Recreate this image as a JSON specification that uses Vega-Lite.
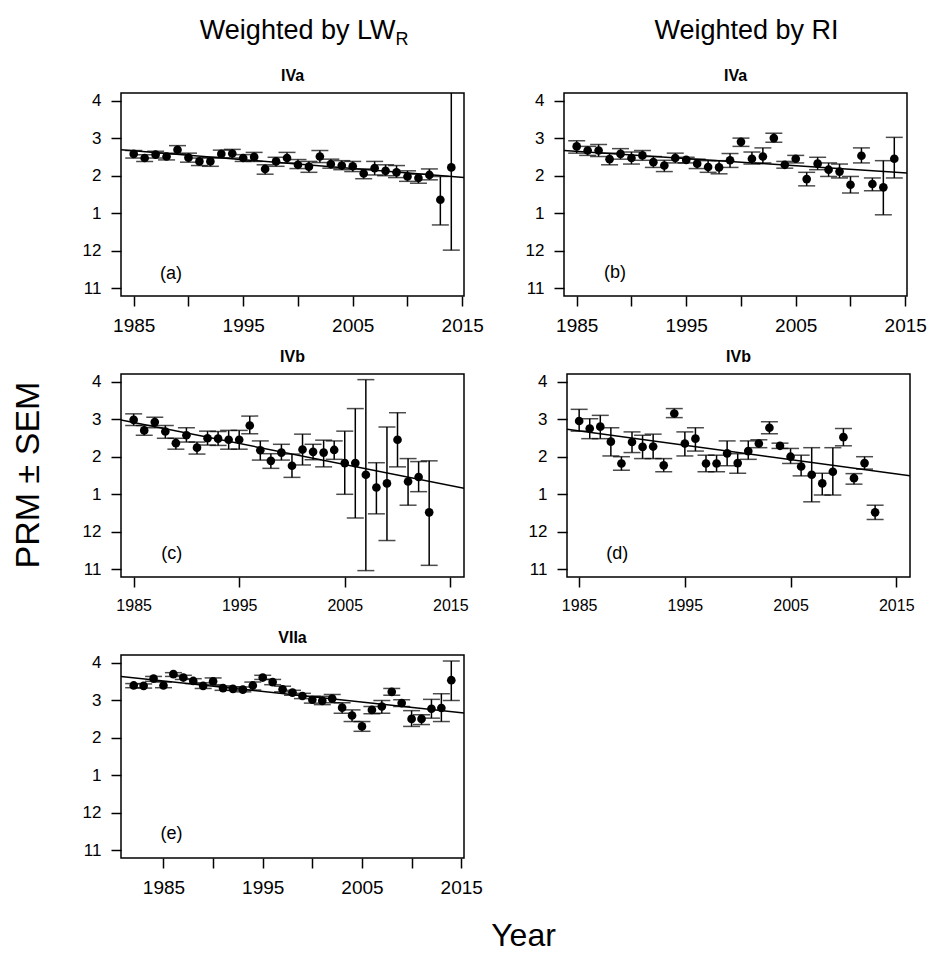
{
  "$schema": "https://vega.github.io/schema/vega-lite/v6.json",
  "padding": {"left": 12, "top": 16, "right": 5, "bottom": 25},
  "background": "white",
  "title": {"text": "PRM ± SEM", "orient": "left", "anchor": "middle", "fontSize": 34, "fontWeight": "normal", "font": "Liberation Sans", "color": "black", "offset": 35, "dx": 9},
  "config": {
    "font": "Liberation Sans",
    "view": {"stroke": "black", "strokeWidth": 1.5},
    "title": {"fontSize": 16, "fontWeight": "bold", "font": "Liberation Sans", "color": "black", "offset": 8},
    "axis": {"grid": false, "domain": false, "tickColor": "black", "tickWidth": 1.5, "tickSize": 10, "labelColor": "black", "labelFont": "Liberation Sans", "labelFlush": false, "labelOverlap": false, "labelPadding": 10}
  },
  "datasets": {
    "notes": [{"panel": "a", "label": "(a)"}, {"panel": "b", "label": "(b)"}, {"panel": "c", "label": "(c)"}, {"panel": "d", "label": "(d)"}, {"panel": "e", "label": "(e)"}, {"panel": "ha", "label": "Weighted by LW"}, {"panel": "hs", "label": "R"}, {"panel": "hb", "label": "Weighted by RI"}, {"panel": "ta", "label": "IVa"}, {"panel": "tb", "label": "IVa"}],
    "la": [{"year": 1983.84, "prm": 2.69}, {"year": 2015.16, "prm": 1.95}],
    "lb": [{"year": 1983.84, "prm": 2.67}, {"year": 2015.16, "prm": 2.07}],
    "lc": [{"year": 1983.8, "prm": 2.98}, {"year": 2016.3, "prm": 1.16}],
    "ld": [{"year": 1983.85, "prm": 2.73}, {"year": 2016.3, "prm": 1.49}],
    "le": [{"year": 1980.72, "prm": 3.63}, {"year": 2015.28, "prm": 2.66}],
    "a": [
      {"year": 1985, "prm": 2.58, "hi": 2.67, "lo": 2.47},
      {"year": 1986, "prm": 2.47, "hi": 2.56, "lo": 2.38},
      {"year": 1987, "prm": 2.56, "hi": 2.65, "lo": 2.47},
      {"year": 1988, "prm": 2.51, "hi": 2.60, "lo": 2.42},
      {"year": 1989, "prm": 2.69, "hi": 2.80, "lo": 2.58},
      {"year": 1990, "prm": 2.48, "hi": 2.60, "lo": 2.36},
      {"year": 1991, "prm": 2.38, "hi": 2.47, "lo": 2.27},
      {"year": 1992, "prm": 2.38, "hi": 2.49, "lo": 2.25},
      {"year": 1993, "prm": 2.58, "hi": 2.68, "lo": 2.47},
      {"year": 1994, "prm": 2.59, "hi": 2.70, "lo": 2.47},
      {"year": 1995, "prm": 2.47, "hi": 2.56, "lo": 2.38},
      {"year": 1996, "prm": 2.50, "hi": 2.62, "lo": 2.38},
      {"year": 1997, "prm": 2.18, "hi": 2.29, "lo": 2.04},
      {"year": 1998, "prm": 2.38, "hi": 2.49, "lo": 2.25},
      {"year": 1999, "prm": 2.47, "hi": 2.62, "lo": 2.34},
      {"year": 2000, "prm": 2.29, "hi": 2.43, "lo": 2.19},
      {"year": 2001, "prm": 2.24, "hi": 2.38, "lo": 2.09},
      {"year": 2002, "prm": 2.51, "hi": 2.67, "lo": 2.35},
      {"year": 2003, "prm": 2.31, "hi": 2.44, "lo": 2.20},
      {"year": 2004, "prm": 2.27, "hi": 2.40, "lo": 2.16},
      {"year": 2005, "prm": 2.25, "hi": 2.38, "lo": 2.11},
      {"year": 2006, "prm": 2.06, "hi": 2.18, "lo": 1.92},
      {"year": 2007, "prm": 2.20, "hi": 2.38, "lo": 2.02},
      {"year": 2008, "prm": 2.13, "hi": 2.29, "lo": 2.00},
      {"year": 2009, "prm": 2.09, "hi": 2.27, "lo": 1.95},
      {"year": 2010, "prm": 1.98, "hi": 2.13, "lo": 1.85},
      {"year": 2011, "prm": 1.94, "hi": 2.04, "lo": 1.80},
      {"year": 2012, "prm": 2.02, "hi": 2.18, "lo": 1.89},
      {"year": 2013, "prm": 1.36, "hi": 1.98, "lo": 0.69},
      {"year": 2014, "prm": 2.22, "hi": 4.42, "lo": 0.02}
    ],
    "b": [
      {"year": 1985, "prm": 2.78, "hi": 2.93, "lo": 2.60},
      {"year": 1986, "prm": 2.67, "hi": 2.78, "lo": 2.54},
      {"year": 1987, "prm": 2.67, "hi": 2.83, "lo": 2.51},
      {"year": 1988, "prm": 2.44, "hi": 2.60, "lo": 2.29},
      {"year": 1989, "prm": 2.58, "hi": 2.72, "lo": 2.44},
      {"year": 1990, "prm": 2.47, "hi": 2.63, "lo": 2.31},
      {"year": 1991, "prm": 2.54, "hi": 2.67, "lo": 2.41},
      {"year": 1992, "prm": 2.36, "hi": 2.51, "lo": 2.22},
      {"year": 1993, "prm": 2.27, "hi": 2.41, "lo": 2.11},
      {"year": 1994, "prm": 2.47, "hi": 2.60, "lo": 2.34},
      {"year": 1995, "prm": 2.42, "hi": 2.49, "lo": 2.34},
      {"year": 1996, "prm": 2.32, "hi": 2.44, "lo": 2.19},
      {"year": 1997, "prm": 2.23, "hi": 2.40, "lo": 2.09},
      {"year": 1998, "prm": 2.22, "hi": 2.40, "lo": 2.05},
      {"year": 1999, "prm": 2.41, "hi": 2.59, "lo": 2.22},
      {"year": 2000, "prm": 2.90, "hi": 3.00, "lo": 2.78},
      {"year": 2001, "prm": 2.45, "hi": 2.63, "lo": 2.31},
      {"year": 2002, "prm": 2.51, "hi": 2.74, "lo": 2.34},
      {"year": 2003, "prm": 3.00, "hi": 3.13, "lo": 2.89},
      {"year": 2004, "prm": 2.29, "hi": 2.38, "lo": 2.20},
      {"year": 2005, "prm": 2.45, "hi": 2.54, "lo": 2.34},
      {"year": 2006, "prm": 1.91, "hi": 2.09, "lo": 1.73},
      {"year": 2007, "prm": 2.32, "hi": 2.49, "lo": 2.16},
      {"year": 2008, "prm": 2.16, "hi": 2.34, "lo": 1.98},
      {"year": 2009, "prm": 2.11, "hi": 2.31, "lo": 1.94},
      {"year": 2010, "prm": 1.76, "hi": 1.98, "lo": 1.54},
      {"year": 2011, "prm": 2.53, "hi": 2.74, "lo": 2.34},
      {"year": 2012, "prm": 1.78, "hi": 1.94, "lo": 1.60},
      {"year": 2013, "prm": 1.69, "hi": 2.40, "lo": 0.96},
      {"year": 2014, "prm": 2.45, "hi": 3.02, "lo": 1.94}
    ],
    "c": [
      {"year": 1985, "prm": 2.98, "hi": 3.14, "lo": 2.83},
      {"year": 1986, "prm": 2.70, "hi": 2.83, "lo": 2.57},
      {"year": 1987, "prm": 2.92, "hi": 3.05, "lo": 2.77},
      {"year": 1988, "prm": 2.67, "hi": 2.83, "lo": 2.49},
      {"year": 1989, "prm": 2.36, "hi": 2.49, "lo": 2.20},
      {"year": 1990, "prm": 2.57, "hi": 2.77, "lo": 2.39},
      {"year": 1991, "prm": 2.24, "hi": 2.39, "lo": 2.07},
      {"year": 1992, "prm": 2.49, "hi": 2.68, "lo": 2.31},
      {"year": 1993, "prm": 2.48, "hi": 2.67, "lo": 2.30},
      {"year": 1994, "prm": 2.45, "hi": 2.70, "lo": 2.20},
      {"year": 1995, "prm": 2.45, "hi": 2.70, "lo": 2.20},
      {"year": 1996, "prm": 2.83, "hi": 3.08, "lo": 2.61},
      {"year": 1997, "prm": 2.17, "hi": 2.42, "lo": 1.91},
      {"year": 1998, "prm": 1.89, "hi": 2.08, "lo": 1.69},
      {"year": 1999, "prm": 2.11, "hi": 2.33, "lo": 1.91},
      {"year": 2000, "prm": 1.76, "hi": 2.07, "lo": 1.45},
      {"year": 2001, "prm": 2.19, "hi": 2.60, "lo": 1.78},
      {"year": 2002, "prm": 2.13, "hi": 2.33, "lo": 1.92},
      {"year": 2003, "prm": 2.11, "hi": 2.44, "lo": 1.73},
      {"year": 2004, "prm": 2.18, "hi": 2.42, "lo": 1.93},
      {"year": 2005, "prm": 1.83, "hi": 2.68, "lo": 1.00},
      {"year": 2006, "prm": 1.83, "hi": 3.28, "lo": 0.37},
      {"year": 2007, "prm": 1.52, "hi": 4.05, "lo": -1.03},
      {"year": 2008, "prm": 1.18, "hi": 1.84, "lo": 0.48},
      {"year": 2009, "prm": 1.29, "hi": 2.79, "lo": -0.23},
      {"year": 2010, "prm": 2.45, "hi": 3.17, "lo": 1.73},
      {"year": 2011, "prm": 1.34, "hi": 1.95, "lo": 0.71},
      {"year": 2012, "prm": 1.46, "hi": 1.87, "lo": 1.07},
      {"year": 2013, "prm": 0.52, "hi": 1.89, "lo": -0.89}
    ],
    "d": [
      {"year": 1985, "prm": 2.95, "hi": 3.26, "lo": 2.68},
      {"year": 1986, "prm": 2.75, "hi": 3.01, "lo": 2.48},
      {"year": 1987, "prm": 2.80, "hi": 3.10, "lo": 2.48},
      {"year": 1988, "prm": 2.40, "hi": 2.77, "lo": 2.02},
      {"year": 1989, "prm": 1.82, "hi": 2.00, "lo": 1.64},
      {"year": 1990, "prm": 2.39, "hi": 2.66, "lo": 2.11},
      {"year": 1991, "prm": 2.26, "hi": 2.57, "lo": 1.95},
      {"year": 1992, "prm": 2.27, "hi": 2.60, "lo": 1.95},
      {"year": 1993, "prm": 1.77, "hi": 1.95, "lo": 1.60},
      {"year": 1994, "prm": 3.15, "hi": 3.28, "lo": 3.04},
      {"year": 1995, "prm": 2.35, "hi": 2.66, "lo": 2.02},
      {"year": 1996, "prm": 2.48, "hi": 2.77, "lo": 2.15},
      {"year": 1997, "prm": 1.82, "hi": 2.04, "lo": 1.60},
      {"year": 1998, "prm": 1.82, "hi": 2.04, "lo": 1.60},
      {"year": 1999, "prm": 2.09, "hi": 2.42, "lo": 1.76},
      {"year": 2000, "prm": 1.83, "hi": 2.08, "lo": 1.56},
      {"year": 2001, "prm": 2.15, "hi": 2.42, "lo": 1.93},
      {"year": 2002, "prm": 2.35, "hi": 2.45, "lo": 2.24},
      {"year": 2003, "prm": 2.77, "hi": 2.93, "lo": 2.61},
      {"year": 2004, "prm": 2.29, "hi": 2.36, "lo": 2.22},
      {"year": 2005, "prm": 2.00, "hi": 2.22, "lo": 1.82},
      {"year": 2006, "prm": 1.74, "hi": 2.04, "lo": 1.49},
      {"year": 2007, "prm": 1.52, "hi": 2.24, "lo": 0.80},
      {"year": 2008, "prm": 1.29, "hi": 1.56, "lo": 0.98},
      {"year": 2009, "prm": 1.60, "hi": 2.24, "lo": 0.98},
      {"year": 2010, "prm": 2.52, "hi": 2.75, "lo": 2.29},
      {"year": 2011, "prm": 1.43, "hi": 1.55, "lo": 1.27},
      {"year": 2012, "prm": 1.83, "hi": 2.00, "lo": 1.67},
      {"year": 2013, "prm": 0.52, "hi": 0.71, "lo": 0.33}
    ],
    "e": [
      {"year": 1982, "prm": 3.39, "hi": 3.44, "lo": 3.33},
      {"year": 1983, "prm": 3.38, "hi": 3.43, "lo": 3.32},
      {"year": 1984, "prm": 3.57, "hi": 3.63, "lo": 3.50},
      {"year": 1985, "prm": 3.39, "hi": 3.48, "lo": 3.33},
      {"year": 1986, "prm": 3.69, "hi": 3.73, "lo": 3.63},
      {"year": 1987, "prm": 3.60, "hi": 3.66, "lo": 3.55},
      {"year": 1988, "prm": 3.51, "hi": 3.57, "lo": 3.44},
      {"year": 1989, "prm": 3.38, "hi": 3.46, "lo": 3.31},
      {"year": 1990, "prm": 3.50, "hi": 3.59, "lo": 3.41},
      {"year": 1991, "prm": 3.32, "hi": 3.38, "lo": 3.26},
      {"year": 1992, "prm": 3.30, "hi": 3.35, "lo": 3.26},
      {"year": 1993, "prm": 3.28, "hi": 3.35, "lo": 3.22},
      {"year": 1994, "prm": 3.39, "hi": 3.48, "lo": 3.27},
      {"year": 1995, "prm": 3.60, "hi": 3.66, "lo": 3.55},
      {"year": 1996, "prm": 3.48, "hi": 3.55, "lo": 3.41},
      {"year": 1997, "prm": 3.29, "hi": 3.37, "lo": 3.22},
      {"year": 1998, "prm": 3.20, "hi": 3.26, "lo": 3.13},
      {"year": 1999, "prm": 3.11, "hi": 3.18, "lo": 3.04},
      {"year": 2000, "prm": 3.01, "hi": 3.10, "lo": 2.92},
      {"year": 2001, "prm": 2.98, "hi": 3.10, "lo": 2.88},
      {"year": 2002, "prm": 3.04, "hi": 3.15, "lo": 2.93},
      {"year": 2003, "prm": 2.80, "hi": 2.93, "lo": 2.65},
      {"year": 2004, "prm": 2.59, "hi": 2.74, "lo": 2.43},
      {"year": 2005, "prm": 2.30, "hi": 2.43, "lo": 2.17},
      {"year": 2006, "prm": 2.74, "hi": 2.83, "lo": 2.64},
      {"year": 2007, "prm": 2.83, "hi": 2.99, "lo": 2.65},
      {"year": 2008, "prm": 3.22, "hi": 3.31, "lo": 3.13},
      {"year": 2009, "prm": 2.92, "hi": 3.01, "lo": 2.83},
      {"year": 2010, "prm": 2.50, "hi": 2.72, "lo": 2.30},
      {"year": 2011, "prm": 2.50, "hi": 2.61, "lo": 2.35},
      {"year": 2012, "prm": 2.77, "hi": 3.02, "lo": 2.52},
      {"year": 2013, "prm": 2.79, "hi": 3.17, "lo": 2.43},
      {"year": 2014, "prm": 3.53, "hi": 4.04, "lo": 2.99}
    ]
  },
  "spacing": 14,
  "vconcat": [
    {
      "spacing": 11,
      "vconcat": [
        {
          "spacing": 39,
          "hconcat": [
            {
              "width": 343, "height": 203,
              "layer": [
                {
                  "encoding": {
                    "x": {"field": "year", "type": "quantitative", "scale": {"domain": [1983.84, 2015.16], "nice": false, "zero": false}, "axis": {"values": [1985, 1990, 1995, 2000, 2005, 2010, 2015], "labelExpr": "datum.value % 10 == 5 ? datum.label : ''", "format": "d", "labelFontSize": 19, "title": null}},
                    "y": {"field": "prm", "type": "quantitative", "scale": {"domain": [-1.2, 4.2], "nice": false, "zero": false}, "axis": {"values": [-1, 0, 1, 2, 3, 4], "labelExpr": "datum.value == 0 ? '12' : datum.value == -1 ? '11' : datum.label", "labelFontSize": 17, "title": null}}
                  },
                  "layer": [
                    {"data": {"name": "la"}, "mark": {"type": "line", "color": "black", "strokeWidth": 1.5, "clip": true}},
                    {"data": {"name": "a"}, "mark": {"type": "rule", "color": "black", "strokeWidth": 1.5, "clip": true}, "encoding": {"y": {"field": "lo"}, "y2": {"field": "hi"}}},
                    {"data": {"name": "a"}, "mark": {"type": "tick", "orient": "horizontal", "color": "black", "size": 17, "thickness": 1.5, "clip": true}, "encoding": {"y": {"field": "lo"}}},
                    {"data": {"name": "a"}, "mark": {"type": "tick", "orient": "horizontal", "color": "black", "size": 17, "thickness": 1.5, "clip": true}, "encoding": {"y": {"field": "hi"}}},
                    {"data": {"name": "a"}, "mark": {"type": "circle", "color": "black", "size": 75, "opacity": 1, "clip": true}}
                  ]
                },
                {"data": {"name": "notes"}, "transform": [{"filter": "datum.panel == 'a'"}], "mark": {"type": "text", "fontSize": 18, "color": "black"}, "encoding": {"text": {"field": "label"},
                  "x": {"datum": 1988.4, "type": "quantitative", "scale": {"domain": [1983.84, 2015.16], "nice": false, "zero": false}, "axis": {"values": [1985, 1990, 1995, 2000, 2005, 2010, 2015], "labelExpr": "datum.value % 10 == 5 ? datum.label : ''", "format": "d", "labelFontSize": 19, "title": null}},
                  "y": {"datum": -0.62, "type": "quantitative", "scale": {"domain": [-1.2, 4.2], "nice": false, "zero": false}, "axis": {"values": [-1, 0, 1, 2, 3, 4], "labelExpr": "datum.value == 0 ? '12' : datum.value == -1 ? '11' : datum.label", "labelFontSize": 17, "title": null}}}},
                {"data": {"name": "notes"}, "transform": [{"filter": "datum.panel == 'ta'"}], "mark": {"type": "text", "fontSize": 16, "fontWeight": "bold", "color": "black"}, "encoding": {"text": {"field": "label"},
                  "x": {"datum": 1999.5, "type": "quantitative", "scale": {"domain": [1983.84, 2015.16], "nice": false, "zero": false}, "axis": {"values": [1985, 1990, 1995, 2000, 2005, 2010, 2015], "labelExpr": "datum.value % 10 == 5 ? datum.label : ''", "format": "d", "labelFontSize": 19, "title": null}},
                  "y": {"datum": 4.65, "type": "quantitative", "scale": {"domain": [-1.2, 4.2], "nice": false, "zero": false}, "axis": {"values": [-1, 0, 1, 2, 3, 4], "labelExpr": "datum.value == 0 ? '12' : datum.value == -1 ? '11' : datum.label", "labelFontSize": 17, "title": null}}}},
                {"data": {"name": "notes"}, "transform": [{"filter": "datum.panel == 'ha'"}], "mark": {"type": "text", "fontSize": 27, "align": "right", "color": "black"}, "encoding": {"text": {"field": "label"},
                  "x": {"datum": 2008.9, "type": "quantitative", "scale": {"domain": [1983.84, 2015.16], "nice": false, "zero": false}, "axis": {"values": [1985, 1990, 1995, 2000, 2005, 2010, 2015], "labelExpr": "datum.value % 10 == 5 ? datum.label : ''", "format": "d", "labelFontSize": 19, "title": null}},
                  "y": {"datum": 5.85, "type": "quantitative", "scale": {"domain": [-1.2, 4.2], "nice": false, "zero": false}, "axis": {"values": [-1, 0, 1, 2, 3, 4], "labelExpr": "datum.value == 0 ? '12' : datum.value == -1 ? '11' : datum.label", "labelFontSize": 17, "title": null}}}},
                {"data": {"name": "notes"}, "transform": [{"filter": "datum.panel == 'hs'"}], "mark": {"type": "text", "fontSize": 18, "align": "left", "color": "black"}, "encoding": {"text": {"field": "label"},
                  "x": {"datum": 2008.9, "type": "quantitative", "scale": {"domain": [1983.84, 2015.16], "nice": false, "zero": false}, "axis": {"values": [1985, 1990, 1995, 2000, 2005, 2010, 2015], "labelExpr": "datum.value % 10 == 5 ? datum.label : ''", "format": "d", "labelFontSize": 19, "title": null}},
                  "y": {"datum": 5.61, "type": "quantitative", "scale": {"domain": [-1.2, 4.2], "nice": false, "zero": false}, "axis": {"values": [-1, 0, 1, 2, 3, 4], "labelExpr": "datum.value == 0 ? '12' : datum.value == -1 ? '11' : datum.label", "labelFontSize": 17, "title": null}}}}
              ]
            },
            {
              "width": 343, "height": 203,
              "layer": [
                {
                  "encoding": {
                    "x": {"field": "year", "type": "quantitative", "scale": {"domain": [1983.84, 2015.16], "nice": false, "zero": false}, "axis": {"values": [1985, 1990, 1995, 2000, 2005, 2010, 2015], "labelExpr": "datum.value % 10 == 5 ? datum.label : ''", "format": "d", "labelFontSize": 19, "title": null}},
                    "y": {"field": "prm", "type": "quantitative", "scale": {"domain": [-1.2, 4.2], "nice": false, "zero": false}, "axis": {"values": [-1, 0, 1, 2, 3, 4], "labelExpr": "datum.value == 0 ? '12' : datum.value == -1 ? '11' : datum.label", "labelFontSize": 17, "title": null}}
                  },
                  "layer": [
                    {"data": {"name": "lb"}, "mark": {"type": "line", "color": "black", "strokeWidth": 1.5, "clip": true}},
                    {"data": {"name": "b"}, "mark": {"type": "rule", "color": "black", "strokeWidth": 1.5, "clip": true}, "encoding": {"y": {"field": "lo"}, "y2": {"field": "hi"}}},
                    {"data": {"name": "b"}, "mark": {"type": "tick", "orient": "horizontal", "color": "black", "size": 17, "thickness": 1.5, "clip": true}, "encoding": {"y": {"field": "lo"}}},
                    {"data": {"name": "b"}, "mark": {"type": "tick", "orient": "horizontal", "color": "black", "size": 17, "thickness": 1.5, "clip": true}, "encoding": {"y": {"field": "hi"}}},
                    {"data": {"name": "b"}, "mark": {"type": "circle", "color": "black", "size": 75, "opacity": 1, "clip": true}}
                  ]
                },
                {"data": {"name": "notes"}, "transform": [{"filter": "datum.panel == 'b'"}], "mark": {"type": "text", "fontSize": 18, "color": "black"}, "encoding": {"text": {"field": "label"},
                  "x": {"datum": 1988.5, "type": "quantitative", "scale": {"domain": [1983.84, 2015.16], "nice": false, "zero": false}, "axis": {"values": [1985, 1990, 1995, 2000, 2005, 2010, 2015], "labelExpr": "datum.value % 10 == 5 ? datum.label : ''", "format": "d", "labelFontSize": 19, "title": null}},
                  "y": {"datum": -0.6, "type": "quantitative", "scale": {"domain": [-1.2, 4.2], "nice": false, "zero": false}, "axis": {"values": [-1, 0, 1, 2, 3, 4], "labelExpr": "datum.value == 0 ? '12' : datum.value == -1 ? '11' : datum.label", "labelFontSize": 17, "title": null}}}},
                {"data": {"name": "notes"}, "transform": [{"filter": "datum.panel == 'tb'"}], "mark": {"type": "text", "fontSize": 16, "fontWeight": "bold", "color": "black"}, "encoding": {"text": {"field": "label"},
                  "x": {"datum": 1999.5, "type": "quantitative", "scale": {"domain": [1983.84, 2015.16], "nice": false, "zero": false}, "axis": {"values": [1985, 1990, 1995, 2000, 2005, 2010, 2015], "labelExpr": "datum.value % 10 == 5 ? datum.label : ''", "format": "d", "labelFontSize": 19, "title": null}},
                  "y": {"datum": 4.65, "type": "quantitative", "scale": {"domain": [-1.2, 4.2], "nice": false, "zero": false}, "axis": {"values": [-1, 0, 1, 2, 3, 4], "labelExpr": "datum.value == 0 ? '12' : datum.value == -1 ? '11' : datum.label", "labelFontSize": 17, "title": null}}}},
                {"data": {"name": "notes"}, "transform": [{"filter": "datum.panel == 'hb'"}], "mark": {"type": "text", "fontSize": 27, "align": "center", "color": "black"}, "encoding": {"text": {"field": "label"},
                  "x": {"datum": 2000.5, "type": "quantitative", "scale": {"domain": [1983.84, 2015.16], "nice": false, "zero": false}, "axis": {"values": [1985, 1990, 1995, 2000, 2005, 2010, 2015], "labelExpr": "datum.value % 10 == 5 ? datum.label : ''", "format": "d", "labelFontSize": 19, "title": null}},
                  "y": {"datum": 5.85, "type": "quantitative", "scale": {"domain": [-1.2, 4.2], "nice": false, "zero": false}, "axis": {"values": [-1, 0, 1, 2, 3, 4], "labelExpr": "datum.value == 0 ? '12' : datum.value == -1 ? '11' : datum.label", "labelFontSize": 17, "title": null}}}}
              ]
            }
          ]
        },
        {
          "spacing": 58,
          "hconcat": [
            {
              "width": 343, "height": 203,
              "title": "IVb",
              "layer": [
                {
                  "encoding": {
                    "x": {"field": "year", "type": "quantitative", "scale": {"domain": [1983.8, 2016.3], "nice": false, "zero": false}, "axis": {"values": [1985, 1995, 2005, 2015], "labelFontSize": 16, "format": "d", "title": null}},
                    "y": {"field": "prm", "type": "quantitative", "scale": {"domain": [-1.2, 4.2], "nice": false, "zero": false}, "axis": {"values": [-1, 0, 1, 2, 3, 4], "labelExpr": "datum.value == 0 ? '12' : datum.value == -1 ? '11' : datum.label", "labelFontSize": 17, "title": null}}
                  },
                  "layer": [
                    {"data": {"name": "lc"}, "mark": {"type": "line", "color": "black", "strokeWidth": 1.5, "clip": true}},
                    {"data": {"name": "c"}, "mark": {"type": "rule", "color": "black", "strokeWidth": 1.5, "clip": true}, "encoding": {"y": {"field": "lo"}, "y2": {"field": "hi"}}},
                    {"data": {"name": "c"}, "mark": {"type": "tick", "orient": "horizontal", "color": "black", "size": 17, "thickness": 1.5, "clip": true}, "encoding": {"y": {"field": "lo"}}},
                    {"data": {"name": "c"}, "mark": {"type": "tick", "orient": "horizontal", "color": "black", "size": 17, "thickness": 1.5, "clip": true}, "encoding": {"y": {"field": "hi"}}},
                    {"data": {"name": "c"}, "mark": {"type": "circle", "color": "black", "size": 75, "opacity": 1, "clip": true}}
                  ]
                },
                {"data": {"name": "notes"}, "transform": [{"filter": "datum.panel == 'c'"}], "mark": {"type": "text", "fontSize": 18, "color": "black"}, "encoding": {"text": {"field": "label"},
                  "x": {"datum": 1988.6, "type": "quantitative", "scale": {"domain": [1983.8, 2016.3], "nice": false, "zero": false}, "axis": {"values": [1985, 1995, 2005, 2015], "labelFontSize": 16, "format": "d", "title": null}},
                  "y": {"datum": -0.58, "type": "quantitative", "scale": {"domain": [-1.2, 4.2], "nice": false, "zero": false}, "axis": {"values": [-1, 0, 1, 2, 3, 4], "labelExpr": "datum.value == 0 ? '12' : datum.value == -1 ? '11' : datum.label", "labelFontSize": 17, "title": null}}}}
              ]
            },
            {
              "width": 343, "height": 203,
              "title": "IVb",
              "layer": [
                {
                  "encoding": {
                    "x": {"field": "year", "type": "quantitative", "scale": {"domain": [1983.85, 2016.3], "nice": false, "zero": false}, "axis": {"values": [1985, 1995, 2005, 2015], "labelFontSize": 16, "format": "d", "title": null}},
                    "y": {"field": "prm", "type": "quantitative", "scale": {"domain": [-1.2, 4.2], "nice": false, "zero": false}, "axis": {"values": [-1, 0, 1, 2, 3, 4], "labelExpr": "datum.value == 0 ? '12' : datum.value == -1 ? '11' : datum.label", "labelFontSize": 17, "title": null}}
                  },
                  "layer": [
                    {"data": {"name": "ld"}, "mark": {"type": "line", "color": "black", "strokeWidth": 1.5, "clip": true}},
                    {"data": {"name": "d"}, "mark": {"type": "rule", "color": "black", "strokeWidth": 1.5, "clip": true}, "encoding": {"y": {"field": "lo"}, "y2": {"field": "hi"}}},
                    {"data": {"name": "d"}, "mark": {"type": "tick", "orient": "horizontal", "color": "black", "size": 17, "thickness": 1.5, "clip": true}, "encoding": {"y": {"field": "lo"}}},
                    {"data": {"name": "d"}, "mark": {"type": "tick", "orient": "horizontal", "color": "black", "size": 17, "thickness": 1.5, "clip": true}, "encoding": {"y": {"field": "hi"}}},
                    {"data": {"name": "d"}, "mark": {"type": "circle", "color": "black", "size": 75, "opacity": 1, "clip": true}}
                  ]
                },
                {"data": {"name": "notes"}, "transform": [{"filter": "datum.panel == 'd'"}], "mark": {"type": "text", "fontSize": 18, "color": "black"}, "encoding": {"text": {"field": "label"},
                  "x": {"datum": 1988.6, "type": "quantitative", "scale": {"domain": [1983.85, 2016.3], "nice": false, "zero": false}, "axis": {"values": [1985, 1995, 2005, 2015], "labelFontSize": 16, "format": "d", "title": null}},
                  "y": {"datum": -0.58, "type": "quantitative", "scale": {"domain": [-1.2, 4.2], "nice": false, "zero": false}, "axis": {"values": [-1, 0, 1, 2, 3, 4], "labelExpr": "datum.value == 0 ? '12' : datum.value == -1 ? '11' : datum.label", "labelFontSize": 17, "title": null}}}}
              ]
            }
          ]
        }
      ]
    },
    {
      "width": 343, "height": 203,
      "title": "VIIa",
      "layer": [
        {
          "encoding": {
            "x": {"field": "year", "type": "quantitative", "scale": {"domain": [1980.72, 2015.28], "nice": false, "zero": false}, "axis": {"values": [1985, 1990, 1995, 2000, 2005, 2010, 2015], "labelExpr": "datum.value % 10 == 5 ? datum.label : ''", "format": "d", "labelFontSize": 19, "title": "Year", "titleFontSize": 32, "titleFontWeight": "normal", "titleFont": "Liberation Sans", "titleColor": "black", "titleX": 402, "titleY": 87, "titleBaseline": "alphabetic", "titleAlign": "center"}},
            "y": {"field": "prm", "type": "quantitative", "scale": {"domain": [-1.2, 4.2], "nice": false, "zero": false}, "axis": {"values": [-1, 0, 1, 2, 3, 4], "labelExpr": "datum.value == 0 ? '12' : datum.value == -1 ? '11' : datum.label", "labelFontSize": 17, "title": null}}
          },
          "layer": [
            {"data": {"name": "le"}, "mark": {"type": "line", "color": "black", "strokeWidth": 1.5, "clip": true}},
            {"data": {"name": "e"}, "mark": {"type": "rule", "color": "black", "strokeWidth": 1.5, "clip": true}, "encoding": {"y": {"field": "lo"}, "y2": {"field": "hi"}}},
            {"data": {"name": "e"}, "mark": {"type": "tick", "orient": "horizontal", "color": "black", "size": 17, "thickness": 1.5, "clip": true}, "encoding": {"y": {"field": "lo"}}},
            {"data": {"name": "e"}, "mark": {"type": "tick", "orient": "horizontal", "color": "black", "size": 17, "thickness": 1.5, "clip": true}, "encoding": {"y": {"field": "hi"}}},
            {"data": {"name": "e"}, "mark": {"type": "circle", "color": "black", "size": 75, "opacity": 1, "clip": true}}
          ]
        },
        {"data": {"name": "notes"}, "transform": [{"filter": "datum.panel == 'e'"}], "mark": {"type": "text", "fontSize": 18, "color": "black"}, "encoding": {"text": {"field": "label"},
          "x": {"datum": 1985.8, "type": "quantitative", "scale": {"domain": [1980.72, 2015.28], "nice": false, "zero": false}, "axis": {"values": [1985, 1990, 1995, 2000, 2005, 2010, 2015], "labelExpr": "datum.value % 10 == 5 ? datum.label : ''", "format": "d", "labelFontSize": 19, "title": "Year", "titleFontSize": 32, "titleFontWeight": "normal", "titleFont": "Liberation Sans", "titleColor": "black", "titleX": 402, "titleY": 87, "titleBaseline": "alphabetic", "titleAlign": "center"}},
          "y": {"datum": -0.57, "type": "quantitative", "scale": {"domain": [-1.2, 4.2], "nice": false, "zero": false}, "axis": {"values": [-1, 0, 1, 2, 3, 4], "labelExpr": "datum.value == 0 ? '12' : datum.value == -1 ? '11' : datum.label", "labelFontSize": 17, "title": null}}}}
      ]
    }
  ]
}
